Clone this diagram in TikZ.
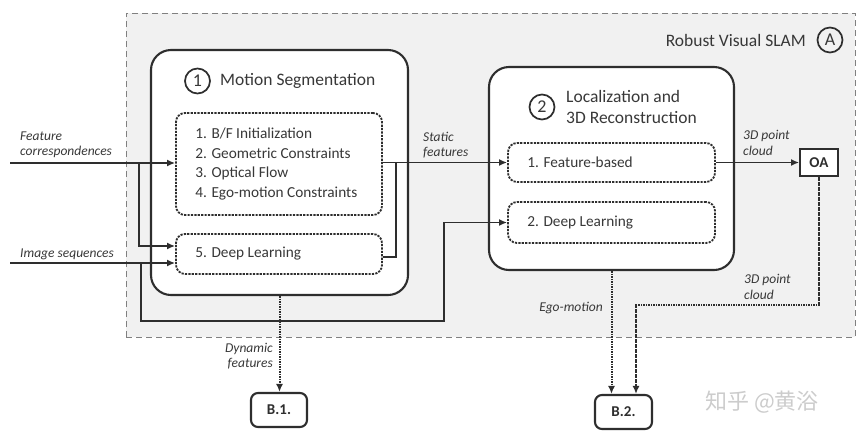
\documentclass[tikz,border=0pt]{standalone}
\usepackage{fontspec}
\setmainfont{Carlito}
\newfontfamily\cjk{Noto Sans CJK SC}
\usetikzlibrary{arrows.meta}
\definecolor{ink}{HTML}{2E2E2E}
\definecolor{txt}{HTML}{383838}
\definecolor{bgfill}{HTML}{F1F1F1}
\begin{document}
\begin{tikzpicture}[x=1pt,y=-1pt,
    slam/.style={draw=gray,line width=1pt,dash pattern=on 6pt off 4pt,fill=bgfill},
    mainbox/.style={draw=ink,line width=2.1pt,rounded corners=20pt,fill=white},
    subbox/.style={draw=ink,line width=1.8pt,dash pattern=on 2.2pt off 1.2pt,rounded corners=9pt,fill=white},
    boxtxt/.style={text=txt,font=\fontsize{15.3}{19.6}\selectfont,align=left,inner sep=0pt},
    numcircle/.style={circle,draw=ink,line width=1.7pt,inner sep=0pt,minimum size=25pt,text=txt,font=\fontsize{18}{20}\selectfont},
    ttl/.style={text=txt,font=\fontsize{17.5}{21}\selectfont,align=left,inner sep=0pt},
    lbl/.style={text=txt,font=\fontsize{13.5}{15.5}\selectfont\itshape,inner sep=0pt},
    endbox/.style={draw=ink,line width=2.1pt,rounded corners=7pt,fill=white,text=ink,font=\fontsize{15}{17}\selectfont\bfseries},
    flow/.style={draw=ink,line width=1.6pt,-{Latex[length=8pt,width=7pt]}},
    wire/.style={draw=ink,line width=1.6pt},
    dflow/.style={draw=ink,line width=2pt,dash pattern=on 1.6pt off 0.9pt,-{Latex[length=8pt,width=7pt]}}]
    \useasboundingbox (0,0) rectangle (864,437);
    \node[slam,minimum width=729pt,minimum height=324pt] (slam) at (490.5,175) {};
    \node[ttl,anchor=east] (slamtxt) at (806,40) {Robust Visual SLAM};
    \node[numcircle] (ca) at (830,40) {A};

    \node[mainbox,minimum width=257pt,minimum height=245pt] (ms) at (279.5,172.5) {};
    \node[numcircle] (c1) at (197.5,81) {1};
    \node[ttl,anchor=west] (mstxt) at (220,81) {Motion Segmentation};
    \node[subbox,minimum width=206pt,minimum height=102pt] (clist) at (279,164) {};
    \node[boxtxt,anchor=west] (clisttxt) at ([xshift=20pt]clist.west) {1. B/F Initialization\\2. Geometric Constraints\\3. Optical Flow\\4. Ego-motion Constraints};
    \node[subbox,minimum width=206pt,minimum height=40pt] (dl1) at (279,254) {};
    \node[boxtxt,anchor=west] (dl1txt) at ([xshift=20pt]dl1.west) {5. Deep Learning};

    \node[mainbox,minimum width=245pt,minimum height=203pt] (lr) at (611.5,168.5) {};
    \node[numcircle] (c2) at (542,107) {2};
    \node[ttl,anchor=west] (lrtxt) at (566,107) {Localization and\\3D Reconstruction};
    \node[subbox,minimum width=207pt,minimum height=39pt] (fb) at (611.5,162.5) {};
    \node[boxtxt,anchor=west] (fbtxt) at ([xshift=20pt]fb.west) {1. Feature-based};
    \node[subbox,minimum width=207pt,minimum height=41pt] (dl2) at (611.5,222.5) {};
    \node[boxtxt,anchor=west] (dl2txt) at ([xshift=20pt]dl2.west) {2. Deep Learning};

    \node[endbox,rounded corners=0pt,line width=1.8pt,minimum width=38pt,minimum height=27pt] (oa) at (819,162.5) {OA};
    \node[endbox,minimum width=56pt,minimum height=34pt] (b1) at (279,410) {B.1.};
    \node[endbox,minimum width=57pt,minimum height=34pt] (b2) at (623.5,412) {B.2.};

    \coordinate (fc) at (10,163);
    \coordinate (fcj) at (139,163);
    \coordinate (is) at (10,263);
    \coordinate (isj) at (141,263);
    \coordinate (lp) at (444,321);
    \coordinate (sj) at (396,162.5);
    \coordinate (oc) at (636,305);
    \draw[flow] (fc) -- (fc -| clist.west);
    \draw[flow] (fcj) |- ([yshift=8pt]dl1.west);
    \draw[flow] (is) -- (is -| dl1.west);
    \draw[flow] (isj) |- (lp) |- (dl2.west);
    \draw[flow] (clist.east |- fb.west) -- (fb.west);
    \draw[wire] ([yshift=-3pt]dl1.east) -| (sj);
    \draw[flow] (fb.east) -- (oa.west);
    \draw[dflow] (oa.south) |- (oc) -- (oc |- b2.north);
    \draw[dflow] (lr.south) -- (lr.south |- b2.north);
    \draw[dflow] (ms.south) -- (ms.south |- b1.north);

    \node[lbl,anchor=west,align=left] (fclbl) at (20,145) {Feature\\correspondences};
    \node[lbl,anchor=west] (islbl) at (20,254) {Image sequences};
    \node[lbl,anchor=west,align=left] (sflbl) at (423,145) {Static\\features};
    \node[lbl,anchor=west,align=left] (pc1) at (743,143) {3D point\\cloud};
    \node[lbl,anchor=west,align=left] (pc2) at (744,287) {3D point\\cloud};
    \node[lbl,anchor=east] (eglbl) at (603,308) {Ego-motion};
    \node[lbl,anchor=east,align=right] (dflbl) at (273,356) {Dynamic\\features};
    \node[text=gray!40,font=\cjk\fontsize{22}{24}\selectfont,anchor=west,inner sep=0pt] (wm) at (705,402) {知乎 @黄浴};
\end{tikzpicture}
\end{document}
